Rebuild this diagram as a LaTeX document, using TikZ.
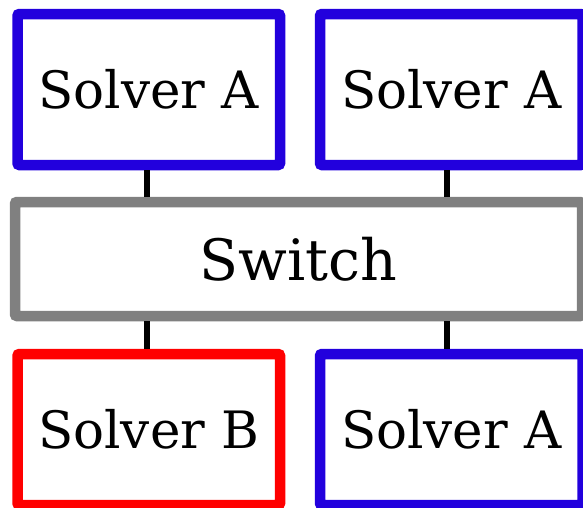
\documentclass[tikz,border=0pt]{standalone}
\usepackage{fontspec}
\setmainfont{DejaVu Serif}
\usepackage{tikz}
\definecolor{solverBlue}{HTML}{2200DD}
\definecolor{solverRed}{HTML}{FF0000}
\definecolor{switchGray}{HTML}{808080}

\begin{document}
\begin{tikzpicture}[x=1pt, y=-1pt,
  box/.style={draw, line width=10.5pt, rounded corners=2pt, fill=white,
    inner sep=0pt, font=\fontsize{51.5}{60}\selectfont},
  solver/.style={box, minimum width=262.5pt, minimum height=151pt},
  link/.style={line width=6pt}]
  \useasboundingbox (0,0) rectangle (583,507);

  % Solvers above the switch
  \node[solver, draw=solverBlue] (solverTL) at (148.75,89.5) {Solver A};
  \node[solver, draw=solverBlue] (solverTR) at (451.25,89.5) {Solver A};

  % Switch bar
  \node[box, draw=switchGray, minimum width=567pt, minimum height=114pt,
    font=\fontsize{57}{66}\selectfont] (switch) at (298.5,259) {Switch};

  % Solvers below the switch
  \node[solver, draw=solverRed] (solverBL) at (148.75,429.5) {Solver B};
  \node[solver, draw=solverBlue] (solverBR) at (451.25,429.5) {Solver A};

  % Links
  \draw[link] ([xshift=-2pt]solverTL.south) -- ([xshift=-2pt]solverTL.south |- switch.north);
  \draw[link] ([xshift=-4pt]solverTR.south) -- ([xshift=-4pt]solverTR.south |- switch.north);
  \draw[link] ([xshift=-2pt]solverBL.north |- switch.south) -- ([xshift=-2pt]solverBL.north);
  \draw[link] ([xshift=-4pt]solverBR.north |- switch.south) -- ([xshift=-4pt]solverBR.north);
\end{tikzpicture}
\end{document}
